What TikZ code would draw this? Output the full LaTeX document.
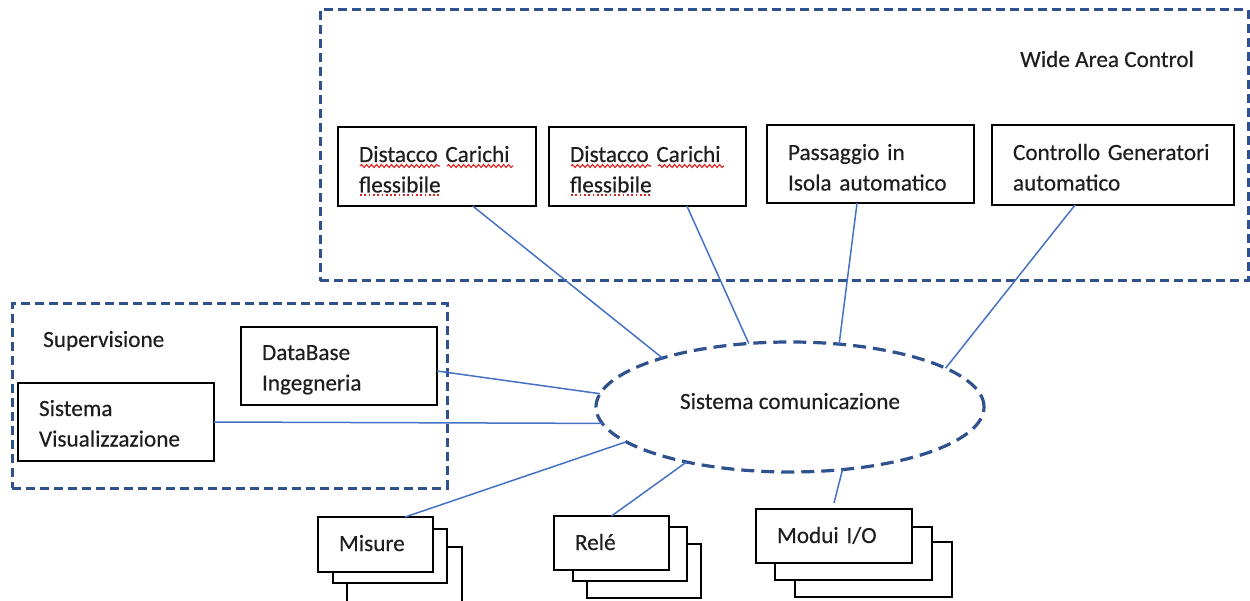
\documentclass[tikz,border=0pt]{standalone}
\usepackage{fontspec}
\setmainfont{Carlito}[FakeBold=0.35]
\usetikzlibrary{calc,shapes.geometric,decorations.pathmorphing}

\definecolor{groupblue}{HTML}{2F528F}
\definecolor{linkblue}{HTML}{4472C4}
\definecolor{spellred}{HTML}{E0201B}
\definecolor{inkgray}{HTML}{1E1E1E}

\tikzset{
  lbl/.style={font=\fontsize{23.2}{30.5}\selectfont, text=inkgray, inner sep=0pt, anchor=base west},
  unit/.style={draw=black, line width=2.8pt, fill=white, outer sep=0pt, text=inkgray,
    font=\fontsize{23.2}{30.5}\selectfont, inner ysep=0pt, inner xsep=21pt,
    align=left, anchor=north west},
  plate/.style={draw=black, line width=2.8pt, fill=white, outer sep=0pt,
    inner sep=0pt, anchor=north west},
  group/.style={draw=groupblue, line width=3pt, dash pattern=on 9pt off 5pt,
    outer sep=0pt, inner sep=0pt, anchor=north west},
  bus/.style={ellipse, draw=groupblue, line width=3.2pt, dash pattern=on 13pt off 7pt,
    inner sep=0pt, outer sep=0pt, font=\fontsize{23.2}{30.5}\selectfont, text=inkgray,
    text height=15pt, text depth=11pt},
  link/.style={draw=linkblue, line width=1.5pt},
  spellwave/.style={draw=spellred, line width=1.1pt, decorate,
    decoration={snake, segment length=5pt, amplitude=1.5pt}},
  spelldots/.style={draw=spellred, line width=1.7pt, dash pattern=on 1.7pt off 2.6pt},
}

\begin{document}
\begin{tikzpicture}[x=1pt, y=-1pt]
  \useasboundingbox (0,0) rectangle (1250,601);

  % group frames
  \node[group, minimum width=928pt, minimum height=271pt] (wac) at (320,10) {};
  \node[group, minimum width=435pt, minimum height=184pt] (sup) at (12,304) {};
  \node[lbl] (wactitle) at (1020,67) {Wide Area Control};
  \node[lbl] (suptitle) at (43,347) {Supervisione};

  % wide area control functions
  \node[unit, text width=156pt, text height=35pt, text depth=44pt] (dc1) at (338,127)
    {\mbox{Distacco Carichi}\\flessibile};
  \node[unit, text width=155pt, text height=35pt, text depth=44pt] (dc2) at (549,127)
    {\mbox{Distacco Carichi}\\flessibile};
  \node[unit, text width=165pt, text height=35pt, text depth=43pt] (isl) at (767,125)
    {\mbox{Passaggio in}\\\mbox{Isola automatico}};
  \node[unit, text width=200pt, text height=35pt, text depth=45pt] (gen) at (992,125)
    {\mbox{Controllo Generatori}\\automatico};

  % spelling marks
  \draw[spellwave] ($(dc1.north west)+(22,39)$) -- ++(80,0);
  \draw[spellwave] ($(dc1.north west)+(109,39)$) -- ++(66,0);
  \draw[spelldots] ($(dc1.north west)+(22,68)$) -- ++(80,0);
  \draw[spellwave] ($(dc2.north west)+(22,39)$) -- ++(80,0);
  \draw[spellwave] ($(dc2.north west)+(109,39)$) -- ++(66,0);
  \draw[spelldots] ($(dc2.north west)+(22,68)$) -- ++(80,0);

  % supervision
  \node[unit, text width=154pt, text height=33pt, text depth=45pt] (db) at (241,327)
    {DataBase\\Ingegneria};
  \node[unit, text width=154pt, text height=33pt, text depth=45pt] (vis) at (18,383)
    {Sistema\\\mbox{Visualizzazione}};

  % communication system
  \node[bus, minimum width=388pt, minimum height=130pt] (bus) at (790,407)
    {Sistema comunicazione};

  % field devices (stacked)
  \node[plate, minimum width=115pt, minimum height=57pt] (mis3) at (347,547) {};
  \node[plate, minimum width=114pt, minimum height=54pt] (mis2) at (333,529) {};
  \node[unit, text width=73pt, text height=34pt, text depth=21pt] (mis1) at (318,517) {Misure};

  \node[plate, minimum width=114pt, minimum height=54pt] (rel3) at (587,544) {};
  \node[plate, minimum width=114pt, minimum height=54pt] (rel2) at (573,527) {};
  \node[unit, text width=73pt, text height=34pt, text depth=20pt] (rel1) at (554,516) {Relé};

  \node[plate, minimum width=157pt, minimum height=55pt] (mod3) at (795,542) {};
  \node[plate, minimum width=157pt, minimum height=53pt] (mod2) at (775,527) {};
  \node[unit, text width=114pt, text height=34pt, text depth=20pt] (mod1) at (756,509) {Modui I/O};

  % links to the communication system
  \draw[link] ($(dc1.south west)!0.68!(dc1.south east)$) -- (bus.159);
  \draw[link] ($(dc2.south west)!0.70!(dc2.south east)$) -- (bus.123);
  \draw[link] ($(isl.south west)!0.435!(isl.south east)$) -- (bus.52);
  \draw[link] ($(gen.south west)!0.343!(gen.south east)$) -- (bus.14);
  \draw[link] ($(db.north east)!0.564!(db.south east)$) -- (bus.176);
  \draw[link] (vis.east) -- (bus.185);
  \draw[link] ($(mis1.north west)!0.757!(mis1.north east)$) -- (bus.192);
  \draw[link] (rel1.north) -- (bus.208);
  \draw[link] ([yshift=6pt]mod1.north) -- (bus.310);
\end{tikzpicture}
\end{document}
